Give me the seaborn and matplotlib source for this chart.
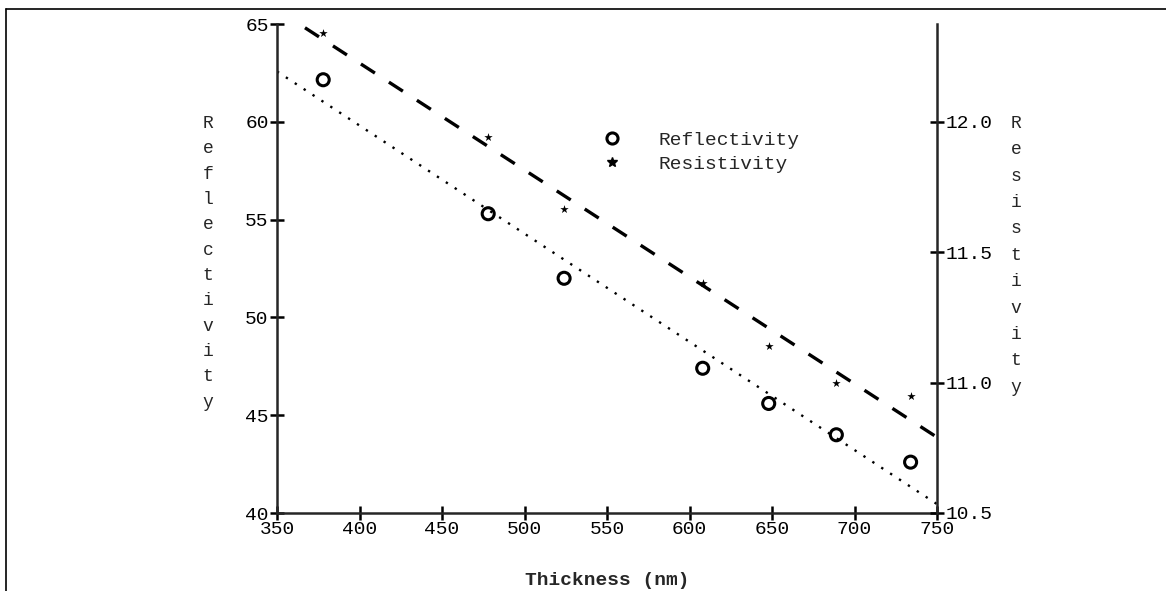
import numpy as np
import pandas as pd
import seaborn as sns
import matplotlib.pyplot as plt
from matplotlib.lines import Line2D

thickness = [378, 478, 524, 608, 648, 689, 734]
reflectivity = [62.15, 55.3, 52.0, 47.4, 45.6, 44.0, 42.6]
resistivity = [12.34, 11.94, 11.665, 11.38, 11.14, 11.0, 10.95]
x_ticks = [350, 400, 450, 500, 550, 600, 650, 700, 750]
refl_ticks = [40, 45, 50, 55, 60, 65]
resist_ticks = [10.5, 11.0, 11.5, 12.0]

df = pd.DataFrame({
    "Thickness": thickness,
    "Reflectivity": reflectivity,
    "Resistivity": resistivity
})

sns.set_style("ticks")
plt.rcParams['font.family'] = ['Liberation Mono', 'DejaVu Sans Mono']

fig = plt.figure(figsize=(11.66, 5.91), dpi=100)
ax = fig.add_axes([277/1166, 1-513/591, 660/1166, 489/591])
ax.set_xlim(350, 750)
ax.set_ylim(40, 65)
ax2 = ax.twinx()
ax2.set_ylim(10.5, 12.375)

# reflectivity: open circles + dotted fit
sns.regplot(data=df, x="Thickness", y="Reflectivity", ax=ax, ci=None, truncate=False,
            color="black", marker="o",
            scatter_kws=dict(s=75, facecolors="none", edgecolors="black", linewidths=2.2, alpha=1, zorder=3),
            line_kws=dict(lw=1.7, linestyle=(0, (1, 3.5))))

# resistivity: stars + dashed fit
sns.regplot(data=df, x="Thickness", y="Resistivity", ax=ax2, ci=None, truncate=False,
            color="black", marker="*",
            scatter_kws=dict(s=40, linewidths=0, alpha=1, zorder=3),
            line_kws=dict(lw=2.4, linestyle=(0, (5, 5))))

ax.set_xlim(350, 750)
ax.set_ylim(40, 65)
ax2.set_ylim(10.5, 12.375)

ax.set_xticks(x_ticks)
ax.set_xticklabels([str(v) for v in x_ticks])
ax.set_yticks(refl_ticks)
ax.set_yticklabels([str(v) for v in refl_ticks])
ax2.set_yticks(resist_ticks)
ax2.set_yticklabels([f"{v:.1f}" for v in resist_ticks])

for s in ["top", "right"]:
    ax.spines[s].set_visible(False)
for s in ["top", "left", "bottom"]:
    ax2.spines[s].set_visible(False)
for s in ["left", "bottom"]:
    ax.spines[s].set_linewidth(1.8)
ax2.spines["right"].set_linewidth(1.8)

ax.tick_params(axis="both", direction="inout", length=10, width=1.8, labelsize=14, pad=1, colors="black")
ax2.tick_params(axis="y", direction="inout", length=10, width=1.8, labelsize=14, pad=1, colors="black")

ax.set_ylabel("")
ax2.set_ylabel("")
ax.set_xlabel("Thickness (nm)", fontweight="bold", fontsize=14, labelpad=24)

fig.text(208/1166, 1-115/591, "\n".join("Reflectivity"), ha="center", va="top",
         fontsize=13, linespacing=1.64)
fig.text(1016/1166, 1-115/591, "\n".join("Resistivity"), ha="center", va="top",
         fontsize=13, linespacing=1.72)

handles = [
    Line2D([], [], marker="o", ls="none", mfc="none", mec="black", mew=2.2, ms=8),
    Line2D([], [], marker="*", ls="none", color="black", ms=7),
]
ax2.legend(handles, ["Reflectivity", "Resistivity"], frameon=False, loc="center left",
           bbox_to_anchor=(0.466, 0.738), fontsize=14, handletextpad=1.9,
           labelspacing=0.3, handlelength=1.0)

# page border
fig.add_artist(Line2D([6/1166, 6/1166], [0, 1-9/591], color="black", lw=1.2, transform=fig.transFigure))
fig.add_artist(Line2D([6/1166, 1], [1-9/591, 1-9/591], color="black", lw=1.2, transform=fig.transFigure))

fig.savefig("out.png", dpi=100)
